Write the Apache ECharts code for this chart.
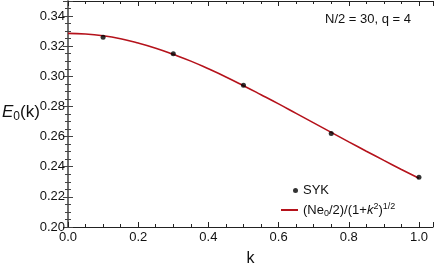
<!DOCTYPE html>
<html><head><meta charset="utf-8">
<script src="https://cdn.jsdelivr.net/npm/echarts@6/dist/echarts.min.js"></script>
<style>html,body{margin:0;padding:0;background:#fff}#c{width:436px;height:267px}</style>
</head><body><div id="c"></div>
<script>
// SYK data points
const sykK = [0.1, 0.3, 0.5, 0.75, 1.0];
const sykE = [0.326, 0.315, 0.294, 0.262, 0.233];
// curve (Ne0/2)/(1+k^2)^(1/2), values
const curveK = [0, 0.05, 0.1, 0.15, 0.2, 0.25, 0.3, 0.35, 0.4, 0.45, 0.5, 0.55, 0.6, 0.65, 0.7, 0.75, 0.8, 0.85, 0.9, 0.95, 1.0];
const curveE = [0.3285, 0.3281, 0.3269, 0.3249, 0.3221, 0.3187, 0.3146, 0.3101, 0.3050, 0.2996, 0.2938, 0.2878, 0.2817, 0.2754, 0.2691, 0.2628, 0.2565, 0.2503, 0.2442, 0.2382, 0.2323];
const xTicks = [0, 0.2, 0.4, 0.6, 0.8, 1.0];
const yTicks = [0.20, 0.22, 0.24, 0.26, 0.28, 0.30, 0.32, 0.34];

const font = 'Liberation Sans, Arial, sans-serif';
const chart = echarts.init(document.getElementById('c'));
const frameX = {lineStyle: {color: '#222', width: 1}};
const frameY = {lineStyle: {color: '#666', width: 1.5}};
chart.setOption({
  animation: false,
  grid: {left: 68, right: 3, top: 1, bottom: 40, containLabel: false, outerBoundsMode: 'none'},
  xAxis: [{
    type: 'value', min: 0, max: 1.04, interval: 0.2,
    axisLine: frameX,
    axisTick: {inside: true, length: 5, lineStyle: {color: '#222'}},
    minorTick: {show: true, splitNumber: 4, length: 3, lineStyle: {color: '#222'}},
    splitLine: {show: false},
    axisLabel: {color: '#111', fontSize: 13, fontFamily: font, margin: 4,
      formatter: v => v.toFixed(1), showMaxLabel: false},
    name: 'k', nameLocation: 'middle', nameGap: 24,
    nameTextStyle: {color: '#111', fontSize: 16, fontFamily: font}
  }, {
    type: 'value', position: 'top', min: 0, max: 1.04, interval: 0.2,
    axisLine: frameX,
    axisTick: {inside: true, length: 5, lineStyle: {color: '#222'}},
    minorTick: {show: true, splitNumber: 4, length: 3, lineStyle: {color: '#222'}},
    splitLine: {show: false}, axisLabel: {show: false}
  }],
  yAxis: [{
    type: 'value', min: 0.20, max: 0.35, interval: 0.02,
    axisLine: frameY,
    axisTick: {inside: true, length: 5, lineStyle: {color: '#444'}},
    minorTick: {show: true, splitNumber: 4, length: 3, lineStyle: {color: '#444'}},
    splitLine: {show: false},
    axisLabel: {color: '#111', fontSize: 13, fontFamily: font, margin: 3,
      formatter: v => v.toFixed(2), showMaxLabel: false}
  }, {
    type: 'value', position: 'right', min: 0.20, max: 0.35, interval: 0.02,
    axisLine: frameY,
    axisTick: {inside: true, length: 5, lineStyle: {color: '#444'}},
    minorTick: {show: true, splitNumber: 4, length: 3, lineStyle: {color: '#444'}},
    splitLine: {show: false}, axisLabel: {show: false}
  }],
  legend: [{
    data: [{name: 'SYK', icon: 'circle'}],
    left: 293, top: 184, padding: 0, itemWidth: 5, itemHeight: 5, itemGap: 0,
    textStyle: {color: '#111', fontSize: 13, fontFamily: font}
  }, {
    data: [{name: 'fit', icon: 'rect'}],
    left: 281, top: 202, padding: 0, itemWidth: 17, itemHeight: 2,
    formatter: () => '{n|(Ne}{sub|0}{n|/2)/(1+}{it|k}{sup|2}{n|)}{sup|1/2}',
    textStyle: {rich: {
      n: {fontSize: 13, fontFamily: font, color: '#111'},
      it: {fontSize: 13, fontStyle: 'italic', fontFamily: font, color: '#111'},
      sub: {fontSize: 9, fontFamily: font, color: '#111', padding: [7, 0, 0, 0]},
      sup: {fontSize: 9, fontFamily: font, color: '#111', padding: [0, 0, 7, 0]}
    }}
  }],
  graphic: [{
    type: 'text', left: 325, top: 13,
    style: {text: 'N/2 = 30, q = 4', fill: '#111', font: '13px ' + font}
  }, {
    type: 'text', left: 2, top: 104,
    style: {
      text: '{it|E}{sub|0}{n|(k)}',
      rich: {
        it: {fontStyle: 'italic', fontSize: 17, fontFamily: font, fill: '#111'},
        sub: {fontSize: 12, fontFamily: font, fill: '#111', padding: [9, 0, 0, 0]},
        n: {fontSize: 17, fontFamily: font, fill: '#111'}
      }
    }
  }],
  series: [{
    name: 'fit', type: 'line', xAxisIndex: 0, yAxisIndex: 0,
    data: curveK.map((k, i) => [k, curveE[i]]),
    smooth: true, showSymbol: false,
    lineStyle: {color: '#b5121b', width: 1.6}, itemStyle: {color: '#b5121b'}
  }, {
    name: 'SYK', type: 'scatter', xAxisIndex: 0, yAxisIndex: 0,
    data: sykK.map((k, i) => [k, sykE[i]]),
    symbolSize: 5, itemStyle: {color: '#000'}, z: 5
  }]
});
</script></body></html>
